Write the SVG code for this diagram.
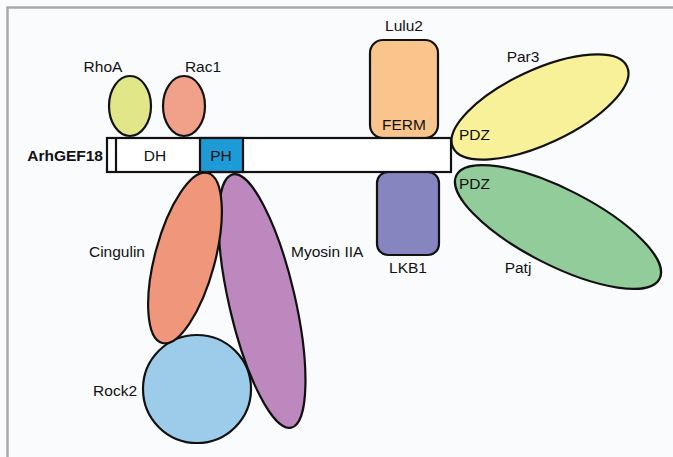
<svg xmlns="http://www.w3.org/2000/svg" width="673" height="457" viewBox="0 0 673 457">
  <style>
    .lbl { font-family: "Liberation Sans", Arial, sans-serif; font-size: 15.5px; fill: #111; }
    .shape { stroke: #111; stroke-width: 2.2; }
  </style>
  <!-- background and frame -->
  <rect x="0" y="0" width="673" height="457" fill="#fafbfd"/>
  <path d="M7.5 457 V7.5 H673" fill="none" stroke="#aaaaaa" stroke-width="2.5"/>

  <g id="connectors"></g>

  <!-- partner proteins behind the bar -->
  <g id="rhoa">
    <ellipse class="shape" cx="130" cy="106" rx="21" ry="30" fill="#e1e789"/>
    <text class="lbl" x="103" y="72" text-anchor="middle">RhoA</text>
  </g>
  <g id="rac1">
    <ellipse class="shape" cx="184" cy="106" rx="21" ry="30" fill="#f1a08a"/>
    <text class="lbl" x="203" y="72" text-anchor="middle">Rac1</text>
  </g>
  <g id="lulu2">
    <rect class="shape" x="370" y="40" width="68" height="98" rx="13" fill="#f9c58c"/>
    <text class="lbl" x="404" y="31" text-anchor="middle">Lulu2</text>
    <text class="lbl" x="404" y="130" text-anchor="middle">FERM</text>
  </g>
  <g id="lkb1">
    <rect class="shape" x="377" y="172" width="62" height="83" rx="11" fill="#8685c0"/>
    <text class="lbl" x="408" y="273" text-anchor="middle">LKB1</text>
  </g>
  <g id="par3">
    <ellipse class="shape" cx="540" cy="107" rx="96" ry="37" transform="rotate(-25 540 107)" fill="#f9f19a"/>
    <text class="lbl" x="523" y="62" text-anchor="middle">Par3</text>
    <text class="lbl" x="459" y="140">PDZ</text>
  </g>
  <g id="patj">
    <ellipse class="shape" cx="558" cy="227" rx="114" ry="38" transform="rotate(27 558 227)" fill="#93cc9b"/>
    <text class="lbl" x="518" y="273" text-anchor="middle">Patj</text>
    <text class="lbl" x="459" y="189">PDZ</text>
  </g>
  <g id="rock2">
    <circle class="shape" cx="197" cy="389" r="54" fill="#9dcceb"/>
    <text class="lbl" x="137" y="396" text-anchor="end">Rock2</text>
  </g>
  <g id="myosin-iia">
    <ellipse class="shape" cx="262" cy="301" rx="33" ry="130" transform="rotate(-13 262 301)" fill="#bd88bd"/>
    <text class="lbl" x="291" y="257">Myosin IIA</text>
  </g>
  <g id="cingulin">
    <ellipse class="shape" cx="185" cy="258" rx="30" ry="88" transform="rotate(15 185 258)" fill="#f0967a"/>
    <text class="lbl" x="145" y="257" text-anchor="end">Cingulin</text>
  </g>

  <!-- ArhGEF18 domain bar -->
  <g id="arhgef18">
    <rect class="shape" x="107" y="138" width="344" height="34" fill="#ffffff"/>
    <line class="shape" x1="116" y1="138" x2="116" y2="172"/>
    <rect class="shape" x="200" y="138" width="43" height="34" fill="#1e9ad6"/>
    <text class="lbl" x="155" y="161" text-anchor="middle">DH</text>
    <text class="lbl" x="221" y="161" text-anchor="middle">PH</text>
    <text class="lbl" x="103" y="161" text-anchor="end" font-weight="bold" font-size="16.5">ArhGEF18</text>
  </g>
</svg>
